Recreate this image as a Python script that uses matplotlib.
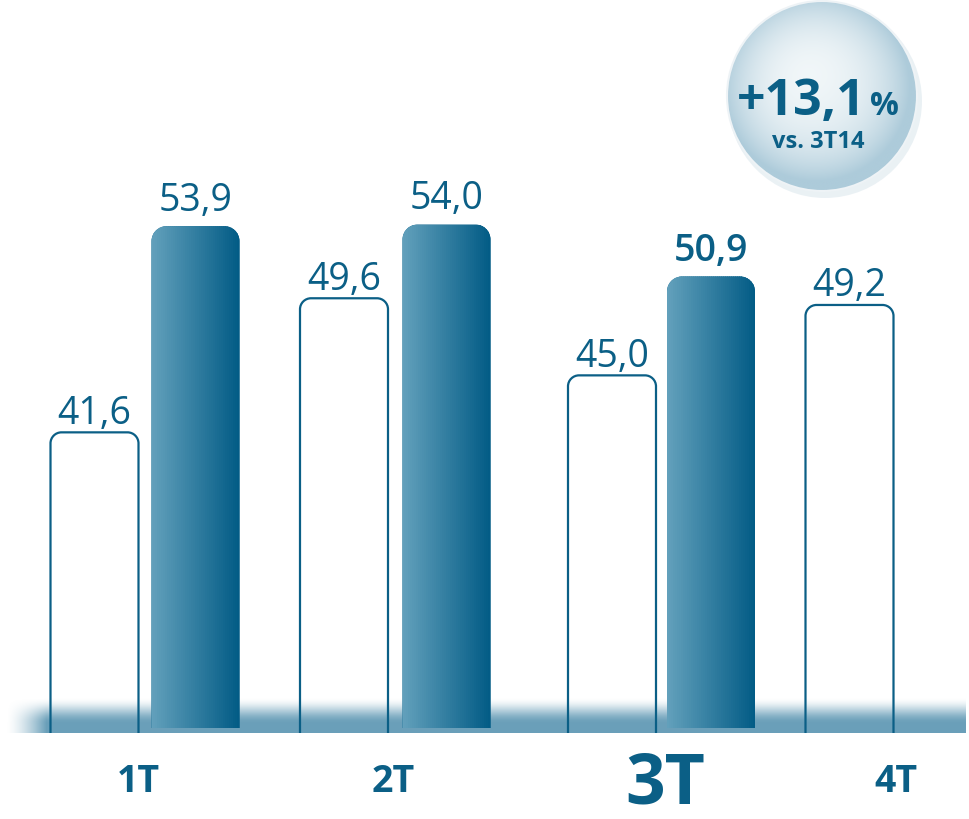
import matplotlib
matplotlib.use("Agg")
import matplotlib.pyplot as plt
import numpy as np
from matplotlib.patches import Ellipse, PathPatch
from matplotlib.path import Path
from matplotlib.colors import to_rgb

# data
quarters = ["1T", "2T", "3T", "4T"]
prev_year = [41.6, 49.6, 45.0, 49.2]      # outlined bars
this_year = [53.9, 54.0, 50.9]            # filled bars
prev_labels = ["41,6", "49,6", "45,0", "49,2"]
this_labels = ["53,9", "54,0", "50,9"]
badge_main = "+13,1"
badge_sub = "vs. 3T14"

# layout (x in pixels, y in value units)
W, H = 969, 820
PX = 16.76                 # pixels per unit
V0 = 23.9                  # value at floor line (pixel row 730)
def py(y):
    return V0 + (730 - y) / PX

x_prev = [94.5, 344, 612, 849.5]
x_this = [195.5, 446.5, 711]
cat_x = [138, 393, 665, 896]
bw = 88
blue = "#0b5f86"


def top_round_bar(x0, x1, y0, y1, rad):
    # rectangle with rounded top corners, rad in pixels
    ry = rad / PX
    k = 0.5523
    verts = [(x0, y0), (x0, y1 - ry),
             (x0, y1 - ry + k * ry), (x0 + rad - k * rad, y1), (x0 + rad, y1),
             (x1 - rad, y1),
             (x1 - rad + k * rad, y1), (x1, y1 - ry + k * ry), (x1, y1 - ry),
             (x1, y0), (x0, y0)]
    codes = [Path.MOVETO, Path.LINETO,
             Path.CURVE4, Path.CURVE4, Path.CURVE4,
             Path.LINETO,
             Path.CURVE4, Path.CURVE4, Path.CURVE4,
             Path.LINETO, Path.CLOSEPOLY]
    return Path(verts, codes)


plt.rcParams["font.family"] = ["Open Sans", "DejaVu Sans"]
fig = plt.figure(figsize=(W / 100, H / 100), dpi=100)
ax = fig.add_axes([0, 0, 1, 1])
ax.set_xlim(0, W)
ax.set_ylim(py(H), py(0))
ax.axis("off")

# floor band
nb = 36
band = np.zeros((nb, W, 4))
band[..., :3] = to_rgb("#6a9fba")
s = np.clip(np.linspace(0, 1.35, nb), 0, 1)
va = s * s * (3 - 2 * s)
xa = np.clip((np.arange(W) - 6) / 40.0, 0, 1) ** 1.5
xa[W - 3:] = 0
band[..., 3] = va[:, None] * xa[None, :]
ax.imshow(band, extent=[0, W, py(734), py(734 - nb)], origin="upper",
          aspect="auto", zorder=1, interpolation="bilinear")

# outlined bars (open at the bottom)
for x, v, lab in zip(x_prev, prev_year, prev_labels):
    path = top_round_bar(x - bw / 2, x + bw / 2, py(734), v, 11)
    ax.add_patch(PathPatch(Path(path.vertices[:-1], path.codes[:-1]),
                           fc="none", ec=blue, lw=1.6, zorder=3))
    ax.annotate(lab, (x, v), xytext=(0, 7), textcoords="offset points",
                ha="center", va="baseline", fontsize=27, color=blue)

# filled bars with gradient, built from thin vertical strips
n_strips = 44
c0 = np.array(to_rgb("#62a0bb"))
c1 = np.array(to_rgb("#035c86"))
for x, v, lab in zip(x_this, this_year, this_labels):
    p = PathPatch(top_round_bar(x - bw / 2, x + bw / 2, py(729), v, 15),
                  fc=c1, ec="none", zorder=4)
    ax.add_patch(p)
    for i in range(n_strips):
        f = i / (n_strips - 1)
        sx = x - bw / 2 + i * bw / n_strips
        strip = ax.bar(sx, v - py(729), bottom=py(729), width=bw / n_strips + 0.6,
                       align="edge", color=c0 * (1 - f) + c1 * f,
                       lw=0, zorder=5)[0]
        strip.set_clip_path(p)
    w = "semibold" if lab == "50,9" else "normal"
    ax.annotate(lab, (x, v), xytext=(0, 12), textcoords="offset points",
                ha="center", va="baseline", fontsize=27, color=blue,
                fontweight=w)

# quarter labels
for x, q in zip(cat_x, quarters):
    big = q == "3T"
    ax.text(x, py(804 if big else 792), q, ha="center", va="baseline",
            fontsize=50 if big else 27, fontweight="bold", color=blue)

# bubble
cx, cy, r = 822, 97, 95
yy, xx = np.mgrid[-1:1:300j, -1:1:300j]
d = np.sqrt(xx ** 2 + yy ** 2)
hl = np.sqrt((xx + 0.2) ** 2 + (yy + 0.3) ** 2)
inner = np.array(to_rgb("#f2f7f9"))
edge = np.array(to_rgb("#adcbda"))
t = np.clip(0.6 * d ** 3 + 0.4 * hl ** 1.8, 0, 1)[..., None]
bub = inner * (1 - t) + edge * t
shadow = Ellipse((cx + 3, py(cy + 5)), 2 * r + 4, (2 * r + 4) / PX,
                 fc="#dde8ee", ec="none", alpha=0.6, zorder=5)
ax.add_patch(shadow)
circ = Ellipse((cx, py(cy)), 2 * r, 2 * r / PX, fc="none", ec="#eef3f6",
               lw=1.5, zorder=7)
ax.add_patch(circ)
bi = ax.imshow(bub, extent=[cx - r, cx + r, py(cy + r), py(cy - r)],
               aspect="auto", zorder=6, interpolation="bilinear")
bi.set_clip_path(circ)
ax.text(866, py(115), badge_main, ha="right", va="baseline", fontsize=36,
        fontweight="bold", color=blue, zorder=8)
ax.text(870, py(115), "%", ha="left", va="baseline", fontsize=23,
        fontweight="bold", color=blue, zorder=8)
ax.text(818, py(148), badge_sub, ha="center", va="baseline", fontsize=17,
        fontweight="bold", color=blue, zorder=8)

fig.savefig("out.png", dpi=100)
